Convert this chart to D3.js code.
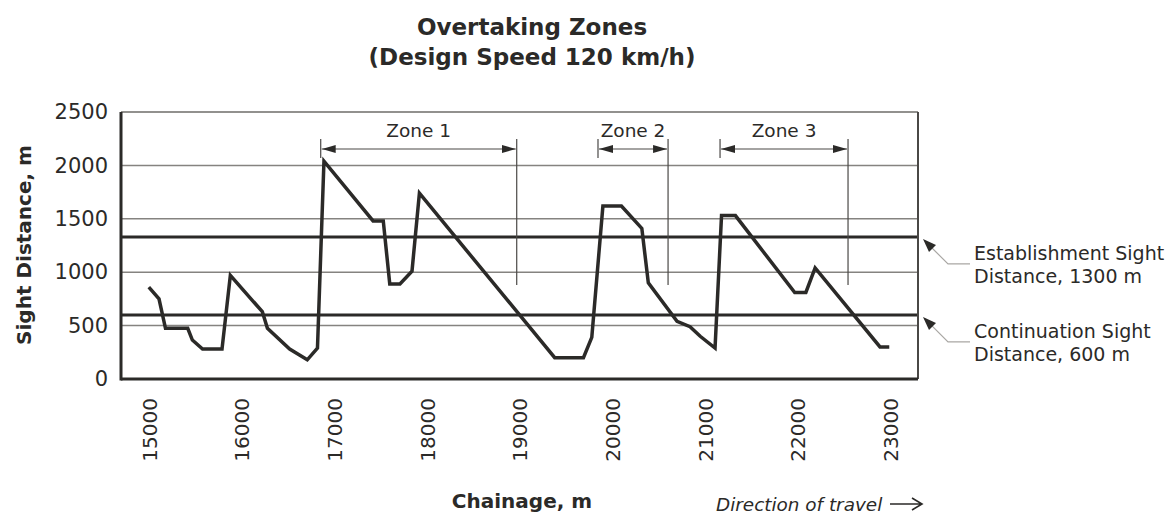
<!DOCTYPE html>
<html>
<head>
<meta charset="utf-8">
<script src="https://cdn.jsdelivr.net/npm/d3@7"></script>
<style>
  body { margin: 0; background: #fff; }
  text { font-family: "DejaVu Sans", sans-serif; fill: #2b2a28; }
</style>
</head>
<body>
<svg id="chart"></svg>
<script>
// chainage (m) and sight distance (m)
const chainage = [15000, 15110, 15180, 15420, 15470, 15580, 15790, 15880, 16225, 16280,
  16520, 16710, 16820, 16890, 17420, 17530, 17600, 17710, 17840, 17920,
  19380, 19690, 19780, 19900, 20100, 20320, 20390, 20700, 20840, 20950,
  21110, 21180, 21330, 21970, 22090, 22190, 22890, 22990];
const sightDist = [860, 750, 475, 475, 365, 280, 280, 970, 630, 475,
  280, 180, 290, 2040, 1480, 1480, 890, 890, 1010, 1740,
  200, 200, 390, 1620, 1620, 1410, 900, 540, 490, 400,
  290, 1530, 1530, 810, 810, 1040, 300, 300];

const zoneNames = ["Zone 1", "Zone 2", "Zone 3"];
const zoneStart = [16855, 19847, 21164];
const zoneEnd = [18970, 20603, 22545];

const thresholdValues = [1330, 600];
const thresholdLabels = [
  ["Establishment Sight", "Distance, 1300 m"],
  ["Continuation Sight", "Distance, 600 m"],
];

const xTicks = [15000, 16000, 17000, 18000, 19000, 20000, 21000, 22000, 23000];
const yTicks = [0, 500, 1000, 1500, 2000, 2500];

const W = 1170, H = 516;
const margin = { top: 112, right: 252, bottom: 137, left: 121 };
const width = W - margin.left - margin.right;
const height = H - margin.top - margin.bottom;
const ink = "#2b2a28";

const svg = d3.select("#chart").attr("width", W).attr("height", H);

const x = d3.scaleLinear().domain([14700, 23300]).range([0, width]);
const y = d3.scaleLinear().domain([0, 2500]).range([height, 0]);

const defs = svg.append("defs");
defs.append("marker")
  .attr("id", "head")
  .attr("viewBox", "0 0 14 8")
  .attr("refX", 14).attr("refY", 4)
  .attr("markerWidth", 14).attr("markerHeight", 8)
  .attr("markerUnits", "userSpaceOnUse")
  .attr("orient", "auto-start-reverse")
  .append("path").attr("d", "M0,0L14,4L0,8Z").attr("fill", ink);

// title
svg.append("text")
  .attr("x", 532).attr("y", 35)
  .attr("text-anchor", "middle")
  .attr("font-size", 23).attr("font-weight", "bold")
  .text("Overtaking Zones");
svg.append("text")
  .attr("x", 532).attr("y", 65)
  .attr("text-anchor", "middle")
  .attr("font-size", 23).attr("font-weight", "bold")
  .text("(Design Speed 120 km/h)");

const g = svg.append("g").attr("transform", `translate(${margin.left},${margin.top})`);

// grid
g.append("g").selectAll("line")
  .data(yTicks.filter((d) => d > 0 && d < 2500))
  .join("line")
  .attr("x1", 0).attr("x2", width)
  .attr("y1", (d) => y(d)).attr("y2", (d) => y(d))
  .attr("stroke", "#858380").attr("stroke-width", 1.5);

// y axis labels
const yAxis = d3.axisLeft(y).tickValues(yTicks).tickSize(0).tickPadding(13)
  .tickFormat(d3.format("d"));
g.append("g").call(yAxis)
  .call((a) => a.select(".domain").remove())
  .selectAll("text")
  .attr("font-size", 21)
  .attr("font-family", "DejaVu Sans, sans-serif")
  .attr("fill", ink);

// x axis labels, rotated
const xAxis = d3.axisBottom(x).tickValues(xTicks).tickSize(0).tickFormat(d3.format("d"));
g.append("g").attr("transform", `translate(0,${height})`).call(xAxis)
  .call((a) => a.select(".domain").remove())
  .selectAll("text")
  .attr("font-size", 20)
  .attr("font-family", "DejaVu Sans, sans-serif")
  .attr("fill", ink)
  .attr("text-anchor", "end")
  .attr("transform", "translate(0,19) rotate(-90)")
  .attr("x", 0).attr("y", 0).attr("dy", "0.36em");

// threshold lines
g.append("g").selectAll("line")
  .data(thresholdValues)
  .join("line")
  .attr("x1", 0).attr("x2", width)
  .attr("y1", (d) => y(d)).attr("y2", (d) => y(d))
  .attr("stroke", ink).attr("stroke-width", 3);

// frame
g.append("line").attr("x1", 0).attr("x2", width).attr("y1", 0).attr("y2", 0)
  .attr("stroke", "#6e6c69").attr("stroke-width", 1.5);
g.append("line").attr("x1", width).attr("x2", width).attr("y1", 0).attr("y2", height)
  .attr("stroke", "#4a4846").attr("stroke-width", 2);
g.append("line").attr("x1", 0).attr("x2", 0).attr("y1", 0).attr("y2", height + 1.5)
  .attr("stroke", ink).attr("stroke-width", 3);
g.append("line").attr("x1", 0).attr("x2", width).attr("y1", height).attr("y2", height)
  .attr("stroke", ink).attr("stroke-width", 3);

// overtaking zones
const arrowY = 37;
const zg = g.append("g").selectAll("g").data(zoneNames).join("g");
zg.append("line")
  .attr("x1", (d, i) => x(zoneStart[i])).attr("x2", (d, i) => x(zoneStart[i]))
  .attr("y1", arrowY - 10).attr("y2", arrowY + 9)
  .attr("stroke", "#4a4846").attr("stroke-width", 1.2);
zg.append("line")
  .attr("x1", (d, i) => x(zoneEnd[i])).attr("x2", (d, i) => x(zoneEnd[i]))
  .attr("y1", arrowY - 10).attr("y2", y(880))
  .attr("stroke", "#4a4846").attr("stroke-width", 1.2);
zg.append("line")
  .attr("x1", (d, i) => x(zoneStart[i]) + 1).attr("x2", (d, i) => x(zoneEnd[i]) - 1)
  .attr("y1", arrowY).attr("y2", arrowY)
  .attr("stroke", "#4a4846").attr("stroke-width", 1.2)
  .attr("marker-start", "url(#head)")
  .attr("marker-end", "url(#head)");
zg.append("text")
  .attr("x", (d, i) => (x(zoneStart[i]) + x(zoneEnd[i])) / 2)
  .attr("y", arrowY - 12)
  .attr("text-anchor", "middle")
  .attr("font-size", 18.5)
  .text((d) => d);

// sight distance profile
const pts = chainage.map((c, i) => [c, sightDist[i]]);
g.append("path")
  .datum(pts)
  .attr("fill", "none")
  .attr("stroke", ink)
  .attr("stroke-width", 3.5)
  .attr("stroke-linejoin", "miter")
  .attr("d", d3.line().x((d) => x(d[0])).y((d) => y(d[1])));

// threshold callouts
const cg = g.append("g").selectAll("g").data(thresholdValues).join("g")
  .attr("transform", (d) => `translate(${width + 5},${y(d) + 2})`);
cg.append("path")
  .attr("d", "M2,2L25,25L47,25")
  .attr("fill", "none")
  .attr("stroke", "#a9a7a4").attr("stroke-width", 1.2);
cg.append("path")
  .attr("d", "M0,0L13,6L6,13Z")
  .attr("fill", ink);
cg.append("text")
  .attr("x", 51).attr("y", 21)
  .attr("font-size", 19)
  .selectAll("tspan")
  .data((d, i) => thresholdLabels[i])
  .join("tspan")
  .attr("x", 51)
  .attr("dy", (d, j) => (j === 0 ? 0 : 23))
  .text((d) => d);

// axis titles
svg.append("text")
  .attr("transform", `translate(31,${245}) rotate(-90)`)
  .attr("text-anchor", "middle")
  .attr("font-size", 20).attr("font-weight", "bold")
  .text("Sight Distance, m");
svg.append("text")
  .attr("x", 522).attr("y", 508)
  .attr("text-anchor", "middle")
  .attr("font-size", 20).attr("font-weight", "bold")
  .text("Chainage, m");
svg.append("text")
  .attr("x", 716).attr("y", 511)
  .attr("font-size", 18.4).attr("font-style", "italic")
  .text("Direction of travel");
svg.append("path")
  .attr("d", "M890,504H921M912,498L922,504L912,510")
  .attr("fill", "none")
  .attr("stroke", ink).attr("stroke-width", 1.6);
</script>
</body>
</html>
